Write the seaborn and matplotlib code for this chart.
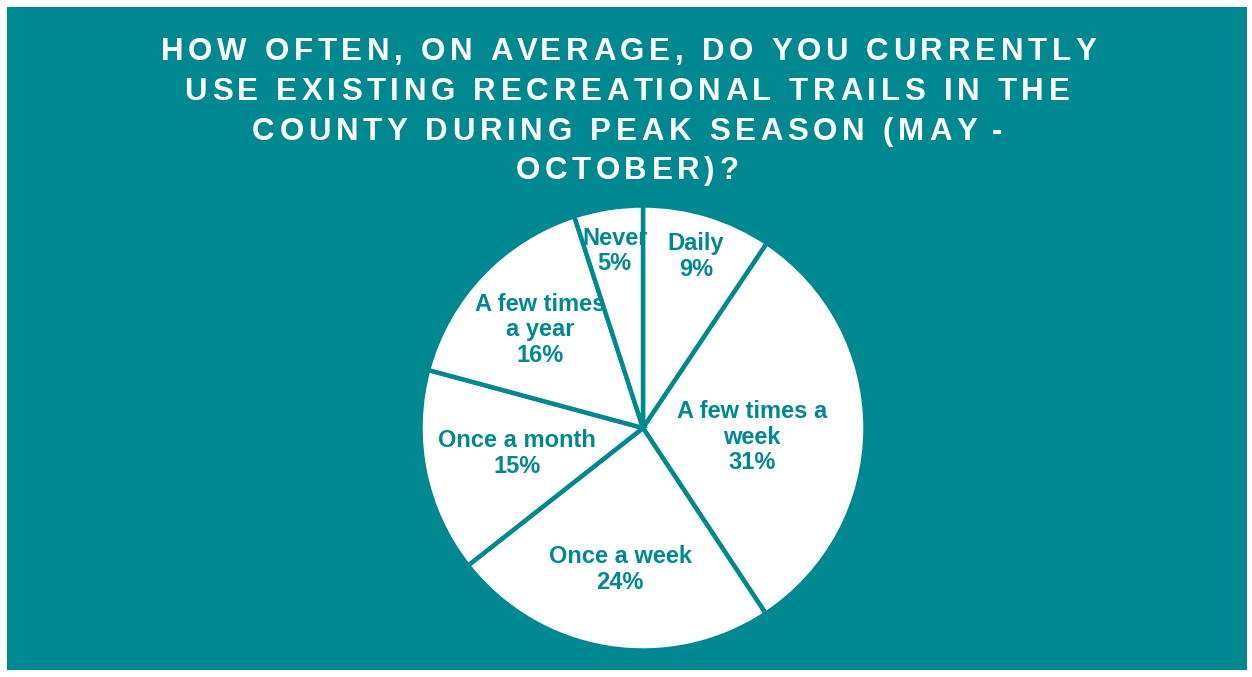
import matplotlib
matplotlib.use("Agg")
import matplotlib.pyplot as plt
import seaborn as sns
import numpy as np
from matplotlib.patches import Rectangle

sns.set_style("white")
plt.rcParams['font.family'] = ['Liberation Sans', 'DejaVu Sans']

categories = ["Daily", "A few times a\nweek", "Once a week", "Once a month", "A few times\na year", "Never"]
values = [9.4, 31.3, 23.7, 14.8, 15.8, 5.0]
title_lines = ["HOW OFTEN, ON AVERAGE, DO YOU CURRENTLY",
               "USE EXISTING RECREATIONAL TRAILS IN THE",
               "COUNTY DURING PEAK SEASON (MAY -",
               "OCTOBER)?"]

TEAL = "#008891"
W, H = 1252, 677
fig = plt.figure(figsize=(W / 100, H / 100), dpi=100, facecolor="white")
fig.patches.append(Rectangle((7 / W, 7 / H), 1240 / W, 663 / H, transform=fig.transFigure,
                             facecolor=TEAL, edgecolor="none", zorder=-5))

cx, cy, r = 643, 428, 222.5
ax = fig.add_axes([(cx - r) / W, (H - cy - r) / H, 2 * r / W, 2 * r / H])
ax.set_zorder(2)
ax.set_facecolor("none")
wedges, _ = ax.pie(values, startangle=90, counterclock=False, colors=["white"] * len(values),
                   wedgeprops=dict(edgecolor=TEAL, linewidth=3.2))
for w in wedges:
    w.set_clip_on(False)
ax.set_xlim(-1, 1)
ax.set_ylim(-1, 1)
ax.set_aspect("equal")
ax.axis("off")

label_dist = [0.815, 0.49, 0.645, 0.578, 0.64, 0.815]
label_shift = [-0.01, -0.04, 0, 0, 0, -0.01]
total = sum(values)
start = 90.0
for cat, v, d, s in zip(categories, values, label_dist, label_shift):
    span = 360.0 * v / total
    mid = np.deg2rad(start - span / 2)
    start -= span
    ax.text(d * np.cos(mid), d * np.sin(mid) + s, f"{cat}\n{v:.0f}%", ha="center", va="center",
            color=TEAL, fontsize=17, fontweight="bold", linespacing=1.15)

# Title with letter spacing, drawn character by character
renderer = fig.canvas.get_renderer()
fs = 22.5
track = 4.7
center_x = 627
baselines = [60, 100, 140, 179]

def text_width(s):
    if not s:
        return 0.0
    t = fig.text(0, 0, s, fontsize=fs, fontweight="bold")
    wpx = t.get_window_extent(renderer).width
    t.remove()
    return wpx

for line, base in zip(title_lines, baselines):
    total_w = text_width(line) + track * (len(line) - 1)
    x0 = center_x - total_w / 2
    for i, ch in enumerate(line):
        if ch == " ":
            continue
        x = x0 + text_width(line[:i]) + track * i
        fig.text(x / W, 1 - base / H, ch, ha="left", va="baseline", color="white",
                 fontsize=fs, fontweight="bold")

fig.savefig("out.png", dpi=100, facecolor="white")
